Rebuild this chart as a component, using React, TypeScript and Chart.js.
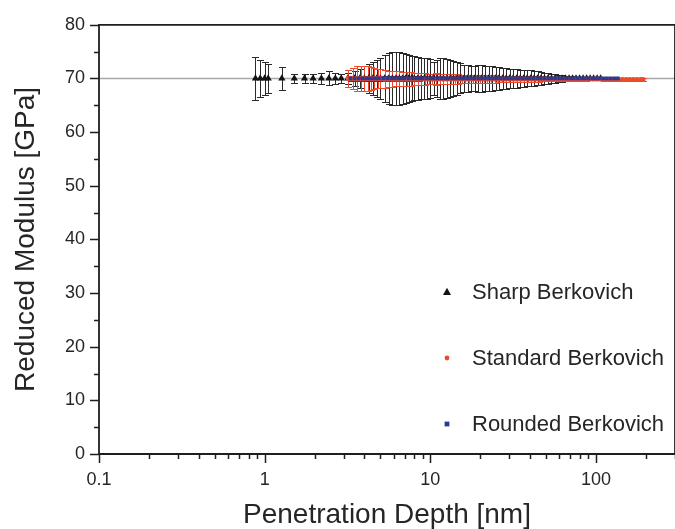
import React, { useEffect, useRef } from "react";
import { Chart, registerables } from "chart.js";

Chart.register(...registerables);

// ---------- data ----------
const sharpDepth = [
  0.88, 0.94, 1.0, 1.05, 1.27, 1.51, 1.74, 1.96, 2.2, 2.44, 2.67, 2.9, 3.18, 3.49,
  3.75, 4.0, 4.25, 4.5, 4.75, 5.0, 5.3, 5.6, 5.9, 6.2,
  6.5, 6.8, 7.1, 7.4, 7.7, 8.0, 8.4, 8.8, 9.2, 9.6,
  10.0, 10.5, 11.0, 11.5, 12.0, 12.6, 13.2, 13.8, 14.5, 15.2,
  16.0, 16.8, 17.6, 18.5, 19.4, 20.4, 21.4, 22.5, 23.6, 24.8,
  26.0, 27.3, 28.7, 30.1, 31.6, 33.2, 34.9, 36.6, 38.4, 40.3,
  42.3, 44.4, 46.6, 48.9, 51.3, 53.9, 56.6, 59.4, 62.4, 65.5,
  68.8, 72.2, 75.8, 79.6, 83.6, 87.8, 92.2, 96.8, 101.6, 106.7,
];
const sharpModulus = [
  70, 70, 70, 70, 70, 70, 70, 70, 70, 70, 70, 70, 70, 70,
  70, 70, 70, 70, 70, 70, 70, 70, 70, 70,
  70, 70, 70, 70, 70, 70, 70, 70, 70, 70,
  70, 70, 70, 70, 70, 70, 70, 70, 70, 70,
  70, 70, 70, 70, 70, 70, 70, 70, 70, 70,
  70, 70, 70, 70, 70, 70, 70, 70, 70, 70,
  70, 70, 70, 70, 70, 70, 70, 70, 70, 70,
  70, 70, 70, 70, 70, 70, 70, 70, 70, 70,
];
const sharpError = [
  4.0, 3.5, 3.1, 2.7, 2.2, 0.9, 0.8, 0.9, 1.0, 1.3, 1.0, 0.8, 1.0, 1.4,
  1.8, 2.3, 2.7, 3.1, 3.5, 3.9, 4.3, 4.7, 4.9, 5.0,
  4.9, 4.7, 4.5, 4.3, 4.2, 4.1, 4.0, 3.9, 3.9, 3.8,
  3.6, 3.0, 3.4, 3.8, 3.8, 3.6, 3.4, 3.2, 3.0, 2.8,
  2.6, 2.5, 2.4, 2.4, 2.5, 2.5, 2.4, 2.3, 2.3, 2.2,
  2.1, 2.0, 1.9, 1.8, 1.7, 1.7, 1.6, 1.6, 1.5, 1.5,
  1.4, 1.3, 1.2, 1.1, 1.0, 0.9, 0.8, 0.7, 0.6, 0.5,
  0.45, 0.4, 0.35, 0.3, 0.3, 0.25, 0.2, 0.2, 0.15, 0.1,
];

const standardDepth = [
  3.2, 3.4, 3.6, 3.8, 4.0, 4.2, 4.4, 4.6, 4.8, 5.0,
  5.3, 5.6, 5.9, 6.2, 6.5, 6.8, 7.2, 7.6, 8.0, 8.4,
  8.8, 9.3, 9.8, 10.3, 10.8, 11.4, 12.0, 12.6, 13.3, 14.0,
  14.7, 15.5, 16.3, 17.1, 18.0, 19.0, 20.0, 21.0, 22.1, 23.3,
  24.5, 25.8, 27.1, 28.5, 30.0, 31.6, 33.2, 35.0, 36.8, 38.7,
  40.7, 42.8, 45.0, 47.4, 49.8, 52.4, 55.1, 58.0, 61.0, 64.2,
  67.5, 71.0, 74.7, 78.6, 82.7, 87.0, 91.5, 96.3, 101.3, 106.6,
  112.1, 117.9, 124.0, 130.5, 137.3, 144.4, 151.9, 159.8, 168.1, 176.9,
  186.1, 192.0,
];
const standardModulus = [
  70, 70, 70, 70, 70, 70, 70, 70, 70, 70,
  69.9, 69.9, 69.9, 69.9, 69.9, 69.9, 69.9, 69.9, 69.9, 69.9,
  69.9, 69.9, 69.9, 69.9, 69.9, 69.9, 69.9, 69.9, 69.9, 69.9,
  69.9, 69.9, 69.9, 69.9, 69.9, 69.9, 69.9, 69.9, 69.9, 69.9,
  69.9, 69.9, 69.9, 69.9, 69.9, 69.9, 69.9, 69.9, 69.9, 69.9,
  69.9, 69.9, 69.9, 69.9, 69.9, 69.9, 69.9, 69.9, 69.9, 69.9,
  69.9, 69.9, 69.9, 69.9, 69.9, 69.9, 69.9, 69.9, 69.9, 69.9,
  69.8, 69.8, 69.8, 69.8, 69.8, 69.8, 69.8, 69.8, 69.8, 69.8,
  69.8, 69.8,
];
const standardError = [
  1.6, 2.0, 2.3, 2.4, 2.4, 2.3, 2.1, 1.9, 1.8, 1.7,
  1.6, 1.5, 1.5, 1.4, 1.4, 1.3, 1.3, 1.3, 1.2, 1.2,
  1.1, 1.1, 1.0, 1.0, 1.1, 1.0, 1.0, 0.9, 0.9, 0.9,
  0.9, 0.8, 0.8, 0.8, 0.8, 0.8, 0.7, 0.7, 0.7, 0.7,
  0.7, 0.6, 0.6, 0.6, 0.6, 0.6, 0.6, 0.5, 0.5, 0.5,
  0.5, 0.5, 0.5, 0.4, 0.4, 0.4, 0.4, 0.4, 0.3, 0.3,
  0.3, 0.3, 0.3, 0.3, 0.3, 0.3, 0.2, 0.2, 0.2, 0.2,
  0.2, 0.2, 0.2, 0.2, 0.2, 0.2, 0.2, 0.2, 0.2, 0.2,
  0.2, 0.2,
];

const roundedDepth = [
  3.3, 3.5, 3.7, 3.9, 4.1, 4.3, 4.5, 4.7, 4.9, 5.2,
  5.5, 5.8, 6.1, 6.4, 6.7, 7.0, 7.4, 7.8, 8.2, 8.6,
  9.0, 9.5, 10.0, 10.5, 11.1, 11.7, 12.3, 12.9, 13.6, 14.3,
  15.1, 15.9, 16.7, 17.6, 18.5, 19.5, 20.5, 21.6, 22.7, 23.9,
  25.2, 26.5, 27.9, 29.4, 30.9, 32.5, 34.2, 36.0, 37.9, 39.9,
  42.0, 44.2, 46.5, 48.9, 51.5, 54.2, 57.0, 60.0, 63.1, 66.4,
  69.9, 73.5, 77.4, 81.4, 85.7, 90.2, 94.9, 99.9, 105.1, 110.6,
  116.4, 122.5, 128.9, 135.6,
];
const roundedModulus = [
  70, 70, 70, 70, 70, 70, 70, 70, 70, 70,
  70, 70, 70, 70, 70, 70, 70, 70, 70, 70,
  70, 70, 70, 70, 70, 70, 70, 70, 70, 70,
  70, 70, 70, 70, 70, 70, 70, 70, 70, 70,
  70, 70, 70, 70, 70, 70, 70, 70, 70, 70,
  70, 70, 70, 70, 70, 70, 70, 70, 70, 70,
  70, 70, 70, 70, 70, 70, 70, 70, 70, 70,
  70, 70, 70, 70,
];
const roundedError = [
  0.4, 0.4, 0.4, 0.4, 0.4, 0.4, 0.4, 0.4, 0.4, 0.4,
  0.4, 0.4, 0.4, 0.4, 0.4, 0.4, 0.4, 0.4, 0.4, 0.4,
  0.3, 0.3, 0.3, 0.3, 0.3, 0.3, 0.3, 0.3, 0.3, 0.3,
  0.3, 0.3, 0.3, 0.3, 0.3, 0.3, 0.3, 0.3, 0.3, 0.3,
  0.2, 0.2, 0.2, 0.2, 0.2, 0.2, 0.2, 0.2, 0.2, 0.2,
  0.2, 0.2, 0.2, 0.2, 0.2, 0.2, 0.2, 0.2, 0.2, 0.2,
  0.15, 0.15, 0.15, 0.15, 0.15, 0.15, 0.15, 0.15, 0.15, 0.15,
  0.15, 0.15, 0.15, 0.15,
];

const seriesLabels = ["Sharp Berkovich", "Standard Berkovich", "Rounded Berkovich"];
const xMajorTicks = [0.1, 1, 10, 100];
const xMinorTicks = [
  0.2, 0.3, 0.4, 0.5, 0.6, 0.7, 0.8, 0.9,
  2, 3, 4, 5, 6, 7, 8, 9,
  20, 30, 40, 50, 60, 70, 80, 90,
  200, 300,
];
const yMajorTicks = [0, 10, 20, 30, 40, 50, 60, 70, 80];
const yMinorTicks = [5, 15, 25, 35, 45, 55, 65, 75];
const referenceModulus = 70;
const xAxisTitle = "Penetration Depth [nm]";
const yAxisTitle = "Reduced Modulus [GPa]";

// ---------- component ----------
const FONT = "'Liberation Sans', Arial, sans-serif";
const TEXT = "#262626";
const AXIS = "#1e1e1e";

const CANVAS_W = 690;
const CANVAS_H = 529;

export default function App() {
  const canvasRef = useRef<HTMLCanvasElement>(null);

  useEffect(() => {
    const canvas = canvasRef.current;
    if (!canvas) return;

    const series = [
      {
        label: seriesLabels[0], xs: sharpDepth, ys: sharpModulus, errs: sharpError,
        color: "#141414", errColor: "#2a2a2a", style: "triangle", radius: 4.2, order: 2,
      },
      {
        label: seriesLabels[1], xs: standardDepth, ys: standardModulus, errs: standardError,
        color: "#ee4a2c", errColor: "#ee4a2c", style: "circle", radius: 2.6, order: 1,
      },
      {
        label: seriesLabels[2], xs: roundedDepth, ys: roundedModulus, errs: roundedError,
        color: "#2b3990", errColor: "#2b3990", style: "rect", radius: 2.6, order: 0,
      },
    ];

    const drawMarker = (ctx: CanvasRenderingContext2D, style: string, cx: number, cy: number, r: number, color: string) => {
      ctx.fillStyle = color;
      ctx.beginPath();
      if (style === "triangle") {
        const h = r * 1.8;
        ctx.moveTo(cx, cy - h * 0.6);
        ctx.lineTo(cx + r, cy + h * 0.4);
        ctx.lineTo(cx - r, cy + h * 0.4);
        ctx.closePath();
      } else if (style === "rect") {
        ctx.rect(cx - r, cy - r, r * 2, r * 2);
      } else {
        ctx.arc(cx, cy, r, 0, Math.PI * 2);
      }
      ctx.fill();
    };

    const overlay = {
      id: "overlay",
      beforeDatasetsDraw(chart: any) {
        const { ctx, chartArea, scales } = chart;
        const x = scales.x;
        const y = scales.y;
        ctx.save();
        const yRef = Math.round(y.getPixelForValue(referenceModulus)) + 0.5;
        ctx.strokeStyle = "#a9a9a9";
        ctx.lineWidth = 1.6;
        ctx.beginPath();
        ctx.moveTo(chartArea.left, yRef);
        ctx.lineTo(chartArea.right, yRef);
        ctx.stroke();
        for (const s of series) {
          ctx.strokeStyle = s.errColor;
          ctx.lineWidth = 1;
          ctx.beginPath();
          for (let i = 0; i < s.xs.length; i++) {
            const px = Math.round(x.getPixelForValue(s.xs[i])) + 0.5;
            const top = Math.round(y.getPixelForValue(s.ys[i] + s.errs[i])) + 0.5;
            const bot = Math.round(y.getPixelForValue(s.ys[i] - s.errs[i])) + 0.5;
            ctx.moveTo(px, top);
            ctx.lineTo(px, bot);
            ctx.moveTo(px - 3.5, top);
            ctx.lineTo(px + 3.5, top);
            ctx.moveTo(px - 3.5, bot);
            ctx.lineTo(px + 3.5, bot);
          }
          ctx.stroke();
        }
        ctx.restore();
      },
      afterDraw(chart: any) {
        const { ctx, chartArea, scales } = chart;
        const x = scales.x;
        const y = scales.y;
        const L = chartArea.left;
        const R = chartArea.right;
        const T = chartArea.top;
        const B = chartArea.bottom;
        ctx.save();
        ctx.strokeStyle = AXIS;
        ctx.lineWidth = 1.8;
        ctx.beginPath();
        ctx.moveTo(L, T);
        ctx.lineTo(R, T);
        ctx.lineTo(R, B);
        ctx.lineTo(L, B);
        ctx.closePath();
        ctx.stroke();

        ctx.lineWidth = 1.5;
        ctx.beginPath();
        for (const v of yMajorTicks) {
          const py = Math.round(y.getPixelForValue(v)) + 0.5;
          ctx.moveTo(L - 9, py);
          ctx.lineTo(L, py);
        }
        for (const v of yMinorTicks) {
          const py = Math.round(y.getPixelForValue(v)) + 0.5;
          ctx.moveTo(L - 5, py);
          ctx.lineTo(L, py);
        }
        for (const v of xMajorTicks) {
          const px = Math.round(x.getPixelForValue(v)) + 0.5;
          ctx.moveTo(px, B);
          ctx.lineTo(px, B + 9);
        }
        for (const v of xMinorTicks) {
          const px = Math.round(x.getPixelForValue(v)) + 0.5;
          ctx.moveTo(px, B);
          ctx.lineTo(px, B + 5);
        }
        ctx.stroke();

        const legendRows = [292, 358, 424];
        ctx.font = `22px ${FONT}`;
        ctx.textBaseline = "middle";
        ctx.textAlign = "left";
        series.forEach((s, i) => {
          const cy = legendRows[i];
          drawMarker(ctx, s.style, 447, cy, s.style === "triangle" ? 4 : 2.4, s.color);
          ctx.fillStyle = TEXT;
          ctx.fillText(s.label, 472, cy + 1);
        });
        ctx.restore();
      },
    };

    const chart = new Chart(canvas, {
      type: "scatter",
      data: {
        datasets: series.map((s) => ({
          label: s.label,
          data: s.xs.map((xv, i) => ({ x: xv, y: s.ys[i] })),
          pointStyle: s.style as any,
          pointRadius: s.radius,
          pointBorderWidth: 0,
          backgroundColor: s.color,
          borderColor: s.color,
          showLine: false,
          order: s.order,
        })),
      },
      options: {
        responsive: false,
        animation: false,
        devicePixelRatio: 1,
        layout: { padding: { top: 18, right: CANVAS_W - 680, left: 0, bottom: 0 } },
        plugins: { legend: { display: false }, tooltip: { enabled: false } },
        scales: {
          x: {
            type: "logarithmic",
            min: 0.1,
            max: 300,
            border: { display: false },
            grid: { display: true, drawOnChartArea: false, drawTicks: false },
            ticks: {
              autoSkip: false,
              maxRotation: 0,
              minRotation: 0,
              padding: 15,
              color: TEXT,
              font: { size: 18, family: FONT },
              callback: (v: any) => {
                const n = Number(v);
                const hit = xMajorTicks.find((t) => Math.abs(t - n) / t < 1e-6);
                return hit !== undefined ? String(hit) : "";
              },
            },
            title: {
              display: true,
              text: xAxisTitle,
              color: TEXT,
              font: { size: 28, family: FONT, lineHeight: 0.95 },
              padding: { top: 0, bottom: 0 },
            },
            afterFit: (scale: any) => {
              scale.height = CANVAS_H - 454;
            },
          },
          y: {
            min: 0,
            max: 80,
            border: { display: false },
            grid: { display: true, drawOnChartArea: false, drawTicks: false },
            ticks: {
              stepSize: 10,
              padding: 14,
              color: TEXT,
              font: { size: 18, family: FONT },
            },
            title: {
              display: true,
              text: yAxisTitle,
              color: TEXT,
              font: { size: 28, family: FONT, lineHeight: 1 },
              padding: { top: 12, bottom: 0 },
            },
            afterFit: (scale: any) => {
              scale.width = 99;
            },
          },
        },
      },
      plugins: [overlay],
    });

    return () => chart.destroy();
  }, []);

  return (
    <div
      style={{
        position: "fixed",
        left: 0,
        top: 0,
        width: 675,
        height: 529,
        overflow: "hidden",
        background: "#ffffff",
      }}
    >
      <canvas
        ref={canvasRef}
        width={CANVAS_W}
        height={CANVAS_H}
        style={{ display: "block", width: CANVAS_W, height: CANVAS_H }}
      />
    </div>
  );
}
